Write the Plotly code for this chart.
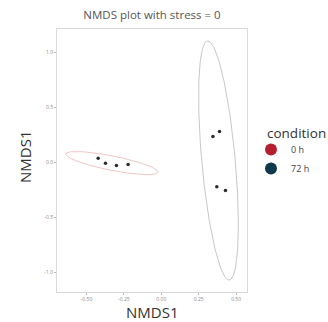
import numpy as np
import plotly.graph_objects as go

# ---- data ----
conditions = ["0 h", "72 h"]
nmds1_0h = [-0.422, -0.373, -0.300, -0.222]
nmds2_0h = [0.039, -0.006, -0.027, -0.018]
nmds1_72h = [0.345, 0.389, 0.371, 0.429]
nmds2_72h = [0.236, 0.282, -0.221, -0.255]
x_ticks = [-0.50, -0.25, 0.00, 0.25, 0.50]
x_tick_labels = ["-0.50", "-0.25", "0.00", "0.25", "0.50"]
y_ticks = [-1.0, -0.5, 0.0, 0.5, 1.0]
y_tick_labels = ["-1.0", "-0.5", "0.0", "0.5", "1.0"]
title_text = "NMDS plot with stress = 0"
x_title = "NMDS1"
y_title = "NMDS1"
legend_title = "condition"

legend_colors = {"0 h": "#b5202e", "72 h": "#0d3a4a"}
ellipse_colors = {"0 h": "rgba(225,150,150,0.55)", "72 h": "rgba(175,175,175,0.7)"}
point_color = "#2b2b2b"

QF_95_2_3 = 9.552094  # qf(0.95, 2, 3)


def cov_trob(x, nu=5, maxit=25, tol=0.01):
    n, p = x.shape
    wt = np.ones(n)
    loc = x.mean(axis=0)
    w = np.sqrt(wt)
    for _ in range(maxit):
        w0 = w
        X = x - loc
        A = np.sqrt(w / w.sum())[:, None] * X
        _, d, vt = np.linalg.svd(A, full_matrices=False)
        wX = X @ vt.T @ np.diag(1.0 / d)
        Q = (wX ** 2).sum(axis=1)
        w = (wt * (nu + p)) / (nu + Q)
        loc = (w[:, None] * x).sum(axis=0) / w.sum()
        if np.all(np.abs(w - w0) < tol):
            break
    X = x - loc
    cov = (np.sqrt(w)[:, None] * X).T @ (np.sqrt(w)[:, None] * X) / wt.sum()
    return loc, cov


def stat_ellipse(xs, ys, segments=200):
    pts = np.column_stack([xs, ys])
    center, shape = cov_trob(pts)
    chol = np.linalg.cholesky(shape).T
    radius = np.sqrt(2 * QF_95_2_3)
    ang = np.linspace(0, 2 * np.pi, segments + 1)
    circ = np.column_stack([np.cos(ang), np.sin(ang)])
    ell = center + radius * (circ @ chol)
    return ell[:, 0], ell[:, 1]


groups = {"0 h": (nmds1_0h, nmds2_0h), "72 h": (nmds1_72h, nmds2_72h)}

fig = go.Figure()
all_ex, all_ey = [], []
for cond in conditions:
    xs, ys = groups[cond]
    ex, ey = stat_ellipse(np.array(xs), np.array(ys))
    all_ex += list(ex)
    all_ey += list(ey)
    fig.add_trace(go.Scatter(x=ex, y=ey, mode="lines",
                             line=dict(color=ellipse_colors[cond], width=1),
                             showlegend=False, hoverinfo="skip"))
for cond in conditions:
    xs, ys = groups[cond]
    fig.add_trace(go.Scatter(x=xs, y=ys, mode="markers",
                             marker=dict(color=point_color, size=3.5),
                             showlegend=False, name=cond))
for cond in conditions:
    fig.add_trace(go.Scatter(x=[None], y=[None], mode="markers",
                             marker=dict(color=legend_colors[cond], size=9),
                             name=cond, showlegend=True))

xmin, xmax = min(all_ex + nmds1_0h), max(all_ex + nmds1_72h)
ymin, ymax = min(all_ey), max(all_ey)
xr = [xmin - 0.05 * (xmax - xmin), xmax + 0.05 * (xmax - xmin)]
yr = [ymin - 0.05 * (ymax - ymin), ymax + 0.05 * (ymax - ymin)]

axis_common = dict(showgrid=False, zeroline=False, showline=True, mirror=True,
                   linecolor="#d9d9d9", linewidth=1, ticks="outside", ticklen=2,
                   tickcolor="#bbbbbb", automargin=False,
                   tickfont=dict(size=5, color="#888888", family="Open Sans"))

fig.update_layout(
    width=328, height=322,
    margin=dict(l=57, r=81, t=29, b=30, autoexpand=False),
    paper_bgcolor="white", plot_bgcolor="white",
    title=dict(text=title_text, x=0.5, xref="paper", y=1 - 15 / 322, yanchor="middle",
               font=dict(size=11.5, color="#555555", family="Open Sans")),
    xaxis=dict(range=xr, tickvals=x_ticks, ticktext=x_tick_labels, **axis_common),
    yaxis=dict(range=yr, tickvals=y_ticks, ticktext=y_tick_labels, **axis_common),
    legend=dict(font=dict(size=9, color="#444444", family="Open Sans"),
                x=1.0 + 4 / 190, xanchor="left", y=(292 - 159) / 263, yanchor="middle",
                itemsizing="constant", itemwidth=30, tracegroupgap=0,
                bgcolor="rgba(0,0,0,0)"),
    showlegend=True,
    annotations=[
        dict(text=x_title, xref="paper", yref="paper", x=0.5, y=0, yanchor="middle",
             yshift=-20, showarrow=False,
             font=dict(size=15, color="#333333", family="Open Sans")),
        dict(text=y_title, xref="paper", yref="paper", x=0, y=(292 - 157) / 263,
             xanchor="center", yanchor="middle", xshift=-32, textangle=-90,
             showarrow=False, font=dict(size=15, color="#333333", family="Open Sans")),
        dict(text=legend_title, xref="paper", yref="paper", x=(265 - 57) / 190,
             y=(292 - 133) / 263, xanchor="left", yanchor="middle", showarrow=False,
             font=dict(size=13.5, color="#333333", family="Open Sans")),
    ],
)

fig.write_html("out.html")
